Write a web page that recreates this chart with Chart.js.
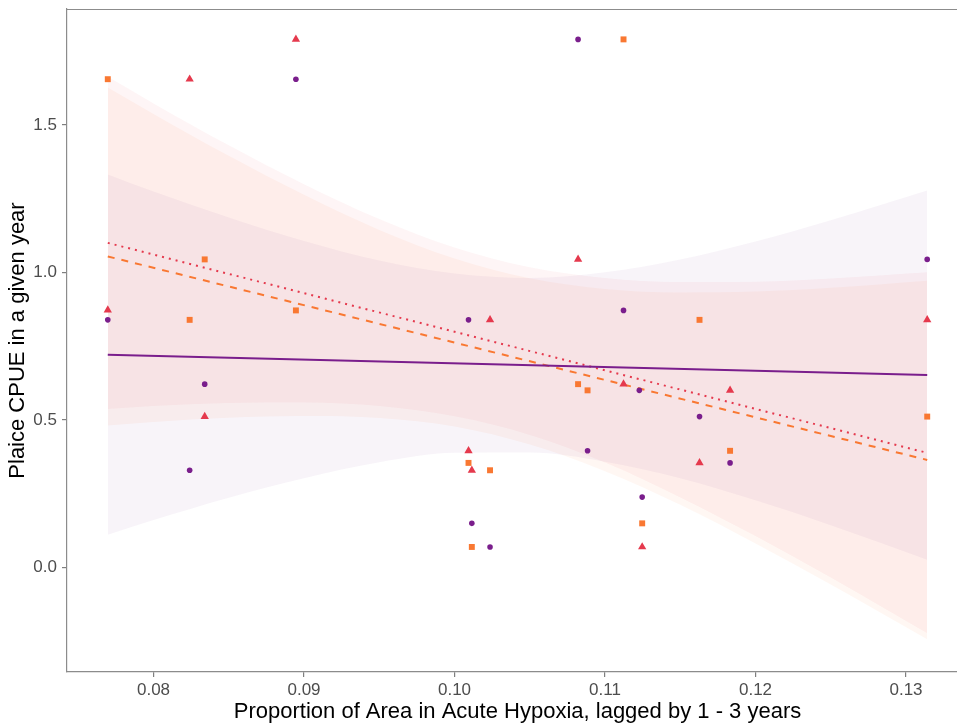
<!DOCTYPE html>
<html><head><meta charset="utf-8">
<script src="https://cdn.jsdelivr.net/npm/chart.js@4.4.0/dist/chart.umd.min.js"></script>
<style>html,body{margin:0;padding:0;background:#fff;overflow:hidden;width:957px;height:724px}canvas{display:block}</style>
</head><body>
<canvas id="c" width="975" height="724" style="width:975px;height:724px"></canvas>
<script>
// x values (proportion of area in acute hypoxia)
const xPurple = [0.07696,0.08240,0.08340,0.08946,0.10093,0.10115,0.10236,0.10821,0.10884,0.11123,0.11228,0.11247,0.11628,0.11831,0.13141];
const yPurple = [0.839,0.329,0.621,1.655,0.839,0.149,0.069,1.790,0.395,0.871,0.600,0.238,0.511,0.354,1.044];
const xOrange = [0.07696,0.08240,0.08340,0.08946,0.10093,0.10115,0.10236,0.10821,0.10884,0.11123,0.11247,0.11628,0.11831,0.13141];
const yOrange = [1.655,0.839,1.044,0.871,0.354,0.069,0.329,0.621,0.600,1.790,0.149,0.839,0.395,0.511];
const xRed = [0.07696,0.08240,0.08340,0.08946,0.10093,0.10115,0.10236,0.10821,0.11123,0.11247,0.11628,0.11831,0.13141];
const yRed = [0.872,1.655,0.511,1.790,0.395,0.329,0.839,1.044,0.621,0.069,0.354,0.600,0.839];

// fitted lines (end points)
const xFit = [0.07696,0.13141];
const purpleFit = [0.721,0.652];
const orangeFit = [1.054,0.364];
const redFit = [1.100,0.388];

// confidence bands
const xBand = [0.07696,0.080,0.085,0.090,0.095,0.100,0.105,0.110,0.115,0.120,0.125,0.13141];
const purpleUpper = [1.332,1.274,1.186,1.106,1.040,0.996,0.981,1.000,1.044,1.105,1.177,1.278];
const purpleLower = [0.110,0.160,0.236,0.302,0.356,0.388,0.389,0.358,0.302,0.227,0.143,0.026];
const orangeUpper = [1.627,1.537,1.395,1.263,1.144,1.047,0.980,0.944,0.932,0.935,0.948,0.972];
const orangeLower = [0.481,0.493,0.507,0.513,0.506,0.477,0.416,0.326,0.212,0.081,-0.058,-0.244];
const redUpper = [1.663,1.573,1.431,1.299,1.181,1.084,1.017,0.981,0.967,0.968,0.979,1.000];
const redLower = [0.537,0.547,0.557,0.559,0.547,0.512,0.449,0.355,0.237,0.106,-0.035,-0.224];

const xTicks = [0.08,0.09,0.10,0.11,0.12,0.13];
const yTicks = [0.0,0.5,1.0,1.5];

const PURPLE = '#7A1E8C', ORANGE = '#F97832', RED = '#E5394D';
const pts = (xs, ys) => xs.map((x,i)=>({x:x, y:ys[i]}));

function band(xs, lo, hi, fillColor) {
  return [
    {data: pts(xs, lo), showLine:true, pointRadius:0, borderWidth:0, borderColor:'rgba(0,0,0,0)', fill:false, cubicInterpolationMode:'monotone', order:3},
    {data: pts(xs, hi), showLine:true, pointRadius:0, borderWidth:0, borderColor:'rgba(0,0,0,0)', backgroundColor:fillColor, fill:'-1', cubicInterpolationMode:'monotone', order:3}
  ];
}

const datasets = [
  ...band(xBand, purpleLower, purpleUpper, 'rgba(122,30,140,0.05)'),
  ...band(xBand, orangeLower, orangeUpper, 'rgba(249,120,50,0.06)'),
  ...band(xBand, redLower, redUpper, 'rgba(229,57,77,0.05)'),
  {data: pts(xFit, purpleFit), showLine:true, pointRadius:0, borderColor:PURPLE, borderWidth:2, fill:false, order:1},
  {data: pts(xFit, orangeFit), showLine:true, pointRadius:0, borderColor:ORANGE, borderWidth:2, borderDash:[7,7], fill:false, order:1},
  {data: pts(xFit, redFit), showLine:true, pointRadius:0, borderColor:RED, borderWidth:2, borderDash:[2,5], fill:false, order:1},
  {data: pts(xPurple, yPurple), pointStyle:'circle', pointRadius:2.8, backgroundColor:PURPLE, borderColor:PURPLE, borderWidth:0, order:0},
  {data: pts(xOrange, yOrange), pointStyle:'rect', pointRadius:4.2, backgroundColor:ORANGE, borderColor:ORANGE, borderWidth:0, order:0},
  {data: pts(xRed, yRed), pointStyle:'triangle', pointRadius:4.8, backgroundColor:RED, borderColor:RED, borderWidth:0, order:0}
];

const topBorder = {
  id:'topBorder',
  afterDraw(chart){
    const {ctx, chartArea:a} = chart;
    ctx.save();
    ctx.strokeStyle = '#8c8c8c';
    ctx.lineWidth = 1.2;
    ctx.beginPath();
    ctx.moveTo(a.left, a.top + 0.5);
    ctx.lineTo(a.right, a.top + 0.5);
    ctx.stroke();
    ctx.restore();
  }
};

const FONT = "'Liberation Sans', Arial, sans-serif";
new Chart(document.getElementById('c'), {
  type:'scatter',
  data:{datasets},
  plugins:[topBorder],
  options:{
    responsive:false,
    animation:false,
    events:[],
    layout:{padding:{left:0, top:9, right:7, bottom:0}},
    plugins:{legend:{display:false}, tooltip:{enabled:false}},
    scales:{
      x:{
        type:'linear', min:0.07425, max:0.13412,
        afterBuildTicks(s){ s.ticks = xTicks.map(v=>({value:v})); },
        afterFit(s){ s.height = 52; s.paddingLeft = 0; s.paddingRight = 0; },
        grid:{display:true, drawOnChartArea:false, drawTicks:true, tickLength:5, color:'#7f7f7f', lineWidth:1.2},
        border:{display:true, color:'#8c8c8c', width:1.2},
        ticks:{color:'#4D4D4D', font:{family:FONT, size:17}, padding:3, maxRotation:0, autoSkip:false,
               callback:v=>Number(v).toFixed(2)},
        title:{display:true, text:'Proportion of Area in Acute Hypoxia, lagged by 1 - 3 years', color:'#000',
               font:{family:FONT, size:22, lineHeight:1}, padding:{top:0,bottom:1}}
      },
      y:{
        type:'linear', min:-0.355, max:1.893,
        afterBuildTicks(s){ s.ticks = yTicks.map(v=>({value:v})); },
        afterFit(s){ s.width = 67; s.paddingTop = 0; s.paddingBottom = 0; },
        grid:{display:true, drawOnChartArea:false, drawTicks:true, tickLength:5, color:'#7f7f7f', lineWidth:1.2},
        border:{display:true, color:'#8c8c8c', width:1.2},
        ticks:{color:'#4D4D4D', font:{family:FONT, size:17}, padding:5, autoSkip:false,
               callback:v=>Number(v).toFixed(1)},
        title:{display:true, text:'Plaice CPUE in a given year', color:'#000',
               font:{family:FONT, size:22, lineHeight:1}, padding:{top:7,bottom:0}}
      }
    }
  }
});
</script></body></html>
